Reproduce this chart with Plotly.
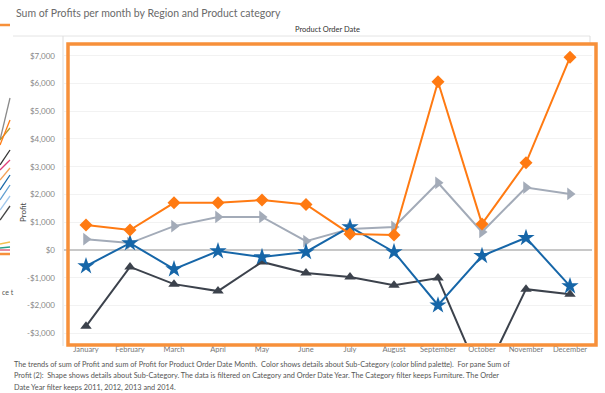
import plotly.graph_objects as go

months = ["January", "February", "March", "April", "May", "June", "July",
          "August", "September", "October", "November", "December"]

# Sub-category series (Furniture), Sum of Profit per month
orange_vals = [900, 720, 1700, 1700, 1800, 1640, 580, 540, 6060, 940, 3140, 6940]
gray_vals = [390, 250, 860, 1190, 1190, 320, 760, 830, 2420, 650, 2250, 2020]
blue_vals = [-580, 250, -690, -40, -250, -70, 830, -70, -1990, -210, 440, -1300]
dark_vals = [-2750, -610, -1230, -1480, -430, -830, -970, -1270, -1010, -4700, -1410, -1590]

ytick_vals = [-3000, -2000, -1000, 0, 1000, 2000, 3000, 4000, 5000, 6000, 7000]
ytick_text = ["-$3,000", "-$2,000", "-$1,000", "$0", "$1,000", "$2,000", "$3,000",
              "$4,000", "$5,000", "$6,000", "$7,000"]

W, H = 605, 393
L, R, T, B = 64, 13, 45, 50
PW, PH = W - L - R, H - T - B


def px(x):
    return (x - L) / PW


def py(y):
    return (H - B - y) / PH


FONT = "Lato"
fig = go.Figure()

series = [
    (dark_vals, "#3C424C", "triangle-up", 10),
    (gray_vals, "#A3ABB8", "triangle-right", 11),
    (blue_vals, "#1666A8", "star", 13),
    (orange_vals, "#FF7A12", "diamond", 10),
]
for vals, col, sym, sz in series:
    fig.add_trace(go.Scatter(
        x=months, y=vals, mode="lines+markers",
        line=dict(color=col, width=2),
        marker=dict(symbol=sym, size=sz, color=col),
        showlegend=False, cliponaxis=True,
    ))

shapes = []
# header separator and left pane line
shapes.append(dict(type="line", xref="paper", yref="paper", x0=px(13), x1=px(590),
                   y0=py(36), y1=py(36), line=dict(color="#e4e4e4", width=1)))
shapes.append(dict(type="line", xref="paper", yref="paper", x0=px(63), x1=px(63),
                   y0=py(36), y1=py(346), line=dict(color="#dddddd", width=1)))
shapes.append(dict(type="line", xref="paper", yref="paper", x0=px(590), x1=px(590),
                   y0=py(36), y1=py(44), line=dict(color="#dddddd", width=1)))
# orange highlight box
shapes.append(dict(type="rect", xref="paper", yref="paper", x0=px(68), x1=px(596),
                   y0=py(345), y1=py(44), line=dict(color="#F7903A", width=3.5)))
# left cut-off worksheet fragments
shapes.append(dict(type="line", xref="paper", yref="paper", x0=px(0), x1=px(10),
                   y0=py(25), y1=py(25), line=dict(color="#F7903A", width=2.5)))
shapes.append(dict(type="line", xref="paper", yref="paper", x0=px(0), x1=px(10),
                   y0=py(254), y1=py(254), line=dict(color="#F7903A", width=2.5)))
deco = [("#8a8a8a", 140, 98), ("#b59b2a", 140, 128), ("#FF7A12", 145, 120),
        ("#333333", 165, 150), ("#e0407a", 170, 160), ("#f4a259", 180, 168),
        ("#1666A8", 190, 175), ("#5F9ED1", 200, 185), ("#A2C8EC", 210, 196),
        ("#444444", 220, 206), ("#f2c14e", 244, 242), ("#29a089", 248, 247),
        ("#d94f70", 250, 250)]
for col, ya, yb in deco:
    shapes.append(dict(type="line", xref="paper", yref="paper", x0=px(0), x1=px(10),
                       y0=py(ya), y1=py(yb), line=dict(color=col, width=1.3)))

annotations = [
    dict(text="Sum of Profits per month by Region and Product category",
         xref="paper", yref="paper", x=px(14), y=py(13), xanchor="left", yanchor="middle",
         showarrow=False, font=dict(family=FONT, size=10.5, color="#6a6a6a")),
    dict(text="Product Order Date", xref="paper", yref="paper", x=px(327), y=py(30),
         xanchor="center", yanchor="middle", showarrow=False,
         font=dict(family=FONT, size=7.5, color="#333333")),
    dict(text="Profit", xref="paper", yref="paper", x=px(23), y=py(212), textangle=-90,
         xanchor="center", yanchor="middle", showarrow=False,
         font=dict(family=FONT, size=8, color="#444444")),
    dict(text="ce t", xref="paper", yref="paper", x=px(0), y=py(292),
         xanchor="left", yanchor="middle", showarrow=False,
         font=dict(family=FONT, size=7, color="#555555")),
]
caption = [
    "The trends of sum of Profit and sum of Profit for Product Order Date Month.  Color shows details about Sub-Category (color blind palette).  For pane Sum of",
    "Profit (2):  Shape shows details about Sub-Category. The data is filtered on Category and Order Date Year. The Category filter keeps Furniture. The Order",
    "Date Year filter keeps 2011, 2012, 2013 and 2014.",
]
for i, line in enumerate(caption):
    annotations.append(dict(text=line, xref="paper", yref="paper", x=px(12), y=py(364 + 11.5 * i),
                            xanchor="left", yanchor="middle", showarrow=False,
                            font=dict(family=FONT, size=7.3, color="#555555")))

fig.update_layout(
    width=W, height=H,
    margin=dict(l=L, r=R, t=T, b=B),
    paper_bgcolor="white", plot_bgcolor="white",
    font=dict(family=FONT),
    shapes=shapes, annotations=annotations,
    xaxis=dict(type="category", range=[-0.5, 11.5], showgrid=False, zeroline=False,
               showline=False, ticks="", tickfont=dict(size=7.5, color="#777777"),
               tickangle=0),
    yaxis=dict(range=[-3350, 7385], tickvals=ytick_vals, ticktext=ytick_text,
               showgrid=True, gridcolor="#f2f2f2", gridwidth=1,
               zeroline=True, zerolinecolor="#c8c8c8", zerolinewidth=2,
               showline=False, ticks="", ticklabelstandoff=8,
               tickfont=dict(size=8, color="#888888")),
)

fig.write_html("out.html", config={"displayModeBar": False},
               post_script="document.body.style.margin='0px';document.body.style.padding='0px';")
